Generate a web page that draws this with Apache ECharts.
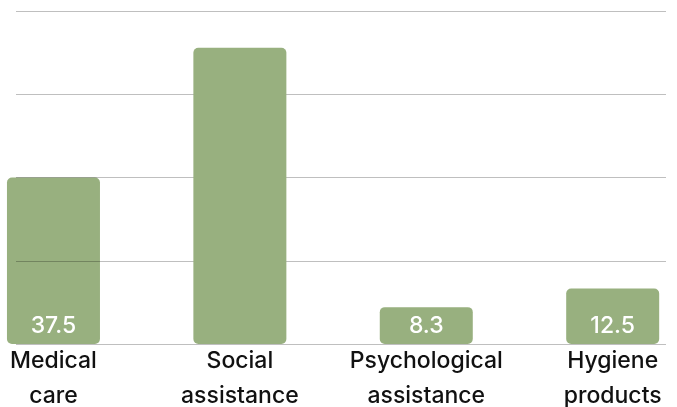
<!DOCTYPE html>
<html>
<head>
<meta charset="utf-8">
<script src="https://cdn.jsdelivr.net/npm/echarts@6/dist/echarts.min.js"></script>
<style>
html,body{margin:0;padding:0;background:#fff;}
#chart{width:677px;height:407px;}
</style>
</head>
<body>
<div id="chart"></div>
<script>
const categories = ['Medical\ncare', 'Social\nassistance', 'Psychological\nassistance', 'Hygiene\nproducts'];
const values = [37.5, 66.7, 8.3, 12.5];
const showLabel = [true, false, true, true];
const yTicks = [0, 18.75, 37.5, 56.25, 75];

const FONT = 'Inter';
const barColor = '#98b07f';

// Medical care bar sits under the gridlines; the others sit above them
const under = categories.map((c, i) => i === 0 ? [i, values[i]] : [i, null]);
const over = categories.map((c, i) => i === 0 ? [i, null] : [i, values[i]]);

function mkData(arr) {
  return arr.map((d, i) => ({
    value: d,
    label: { show: showLabel[i] && d[1] != null }
  }));
}

const labelCfg = {
  position: 'insideBottom',
  distance: 6,
  color: '#ffffff',
  fontFamily: FONT,
  fontWeight: 500,
  fontSize: 23,
  formatter: p => p.value[1]
};

const chart = echarts.init(document.getElementById('chart'), null, { renderer: 'canvas' });
chart.setOption({
  animation: false,
  backgroundColor: '#ffffff',
  grid: { left: 16, right: 11, top: 11, bottom: 63, containLabel: false, outerBoundsMode: 'none' },
  xAxis: {
    type: 'value',
    min: -0.201,
    max: 3.286,
    axisLine: { show: false },
    axisTick: { show: false },
    splitLine: { show: false },
    axisLabel: {
      customValues: categories.map((c, i) => i),
      formatter: v => categories[Math.round(v)] || '',
      color: '#111111',
      fontFamily: FONT,
      fontWeight: 500,
      fontSize: 23,
      lineHeight: 35,
      margin: 0,
      verticalAlign: 'top',
      hideOverlap: false
    }
  },
  yAxis: {
    type: 'value',
    min: yTicks[0],
    max: yTicks[yTicks.length - 1],
    interval: yTicks[1] - yTicks[0],
    z: 1,
    axisLabel: { show: false },
    axisLine: { show: false },
    axisTick: { show: false },
    splitLine: { show: true, lineStyle: { color: 'rgba(0,0,0,0.25)', width: 1.2 } }
  },
  series: [
    {
      type: 'bar',
      z: 0,
      clip: false,
      barWidth: 93,
      barGap: '-100%',
      itemStyle: { color: barColor, borderRadius: 5 },
      label: labelCfg,
      data: mkData(under)
    },
    {
      type: 'bar',
      z: 2,
      clip: false,
      barWidth: 93,
      barGap: '-100%',
      itemStyle: { color: barColor, borderRadius: 5 },
      label: labelCfg,
      data: mkData(over)
    }
  ]
});
</script>
</body>
</html>
